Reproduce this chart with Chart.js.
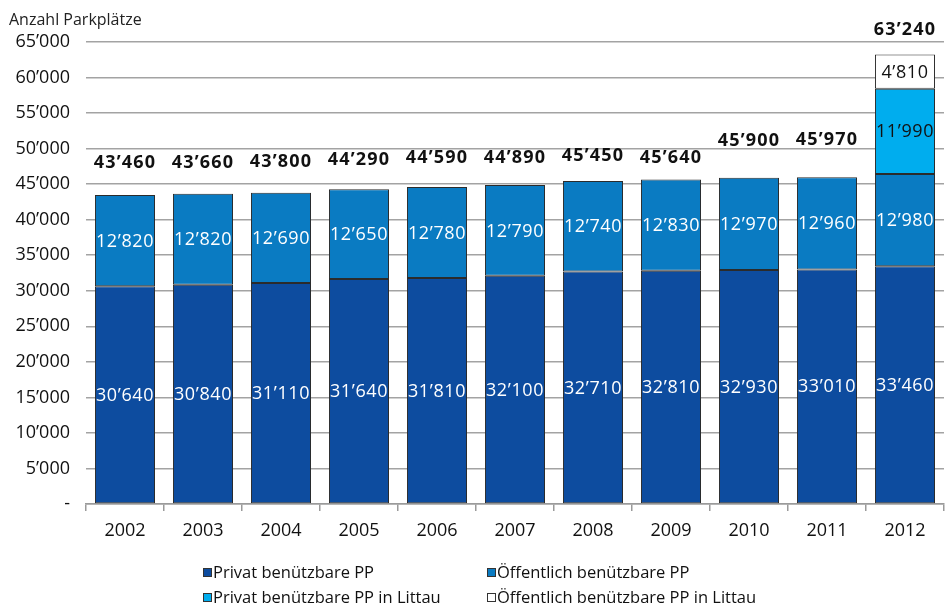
<!DOCTYPE html>
<html>
<head>
<meta charset="utf-8">
<script src="https://cdn.jsdelivr.net/npm/chart.js@4"></script>
<style>
  html, body { margin: 0; padding: 0; background: #fff; }
  #wrap { position: relative; width: 946px; height: 605px; }
</style>
</head>
<body>
<div id="wrap"><canvas id="pp" width="946" height="605"></canvas></div>
<script>
const years = ['2002', '2003', '2004', '2005', '2006', '2007', '2008', '2009', '2010', '2011', '2012'];
const privat = [30640, 30840, 31110, 31640, 31810, 32100, 32710, 32810, 32930, 33010, 33460];
const oeffentlich = [12820, 12820, 12690, 12650, 12780, 12790, 12740, 12830, 12970, 12960, 12980];
const privatLittau = [null, null, null, null, null, null, null, null, null, null, 11990];
const oeffentlichLittau = [null, null, null, null, null, null, null, null, null, null, 4810];
const totals = [43460, 43660, 43800, 44290, 44590, 44890, 45450, 45640, 45900, 45970, 63240];
const yTicks = [0, 5000, 10000, 15000, 20000, 25000, 30000, 35000, 40000, 45000, 50000, 55000, 60000, 65000];

const FONT = '"Open Sans", "Noto Sans", sans-serif';
// gap in px between bar top and its total label
const totalGap = [32, 31, 31, 29, 29, 27, 25, 22, 37, 37, 25];

function fmt(v) {
  if (!v) return '-';
  const s = String(Math.round(v));
  return s.replace(/\B(?=(\d{3})+(?!\d))/g, '\u2019');
}

const segmentLabels = {
  id: 'segmentLabels',
  afterDatasetsDraw(chart) {
    const { ctx } = chart;
    ctx.save();
    ctx.textAlign = 'center';
    ctx.textBaseline = 'middle';
    ctx.font = '18px ' + FONT;
    ctx.letterSpacing = '0.6px';
    chart.data.datasets.forEach((ds, i) => {
      const meta = chart.getDatasetMeta(i);
      meta.data.forEach((bar, j) => {
        const v = ds.data[j];
        if (v == null) return;
        ctx.fillStyle = ds.labelColor;
        ctx.fillText(fmt(v), bar.x, (bar.y + bar.base) / 2 + 1);
      });
    });
    // totals above the stacks
    const yScale = chart.scales.y;
    const meta0 = chart.getDatasetMeta(0);
    ctx.font = 'bold 18px ' + FONT;
    ctx.letterSpacing = '1.2px';
    ctx.fillStyle = '#111';
    totals.forEach((t, j) => {
      const x = meta0.data[j].x;
      const top = yScale.getPixelForValue(t);
      ctx.fillText(fmt(t), x, top - totalGap[j]);
    });
    // axis caption
    ctx.font = '16px ' + FONT;
    ctx.letterSpacing = '0px';
    ctx.textAlign = 'left';
    ctx.fillStyle = '#222';
    ctx.fillText('Anzahl Parkplätze', 9, 20);
    ctx.restore();
  }
};

const gridLegend = {
  id: 'gridLegend',
  afterDraw(chart) {
    const { ctx } = chart;
    const cols = [203, 487];
    const rows = [573, 598];
    ctx.save();
    ctx.font = '16.5px ' + FONT;
    ctx.textBaseline = 'middle';
    ctx.textAlign = 'left';
    chart.data.datasets.forEach((ds, i) => {
      const x = cols[i % 2];
      const y = rows[Math.floor(i / 2)];
      ctx.fillStyle = ds.backgroundColor;
      ctx.fillRect(x, y - 5, 9, 9);
      ctx.strokeStyle = '#333';
      ctx.lineWidth = 1;
      ctx.strokeRect(x + 0.5, y - 4.5, 8, 8);
      ctx.fillStyle = '#111';
      ctx.fillText(ds.label, x + 10, y);
    });
    ctx.restore();
  }
};

function bars(label, data, color, labelColor) {
  return {
    label,
    data,
    backgroundColor: color,
    labelColor,
    borderColor: '#2b2b2b',
    borderWidth: 1,
    borderSkipped: false,
    categoryPercentage: 1,
    barPercentage: 0.77,
  };
}

new Chart(document.getElementById('pp').getContext('2d'), {
  type: 'bar',
  data: {
    labels: years,
    datasets: [
      bars('Privat benützbare PP', privat, '#0d4c9f', '#ffffff'),
      bars('Öffentlich benützbare PP', oeffentlich, '#0a7bc2', '#ffffff'),
      bars('Privat benützbare PP in Littau', privatLittau, '#00adee', '#111111'),
      bars('Öffentlich benützbare PP in Littau', oeffentlichLittau, '#ffffff', '#111111'),
    ],
  },
  options: {
    responsive: false,
    animation: false,
    layout: { padding: { top: 42, right: 2, left: 0, bottom: 0 } },
    plugins: {
      legend: { display: false },
      tooltip: { enabled: false },
    },
    scales: {
      x: {
        stacked: true,
        offset: true,
        afterFit: (s) => { s.height = 101; },
        grid: {
          display: true,
          drawOnChartArea: false,
          drawTicks: true,
          tickLength: 7,
          color: '#9a9a9a',
          lineWidth: 1.5,
        },
        border: { display: true, color: '#9a9a9a', width: 1.5 },
        ticks: {
          color: '#111',
          padding: 9,
          font: { family: FONT, size: 18 },
        },
      },
      y: {
        stacked: true,
        min: 0,
        max: 65000,
        afterFit: (s) => { s.width = 86; },
        afterBuildTicks: (s) => { s.ticks = yTicks.map((v) => ({ value: v })); },
        grid: {
          color: '#a3a3a3',
          lineWidth: 1.5,
          drawTicks: false,
        },
        border: { display: false },
        ticks: {
          color: '#111',
          padding: 16,
          font: { family: FONT, size: 18 },
          callback: (v) => fmt(v),
        },
      },
    },
  },
  plugins: [segmentLabels, gridLegend],
});
</script>
</body>
</html>
